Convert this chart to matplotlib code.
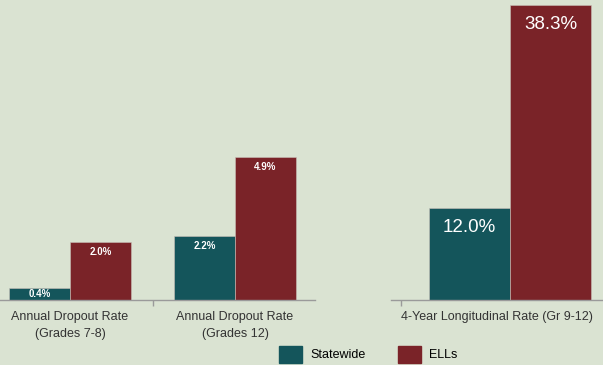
import matplotlib.pyplot as plt
from matplotlib.patches import Patch

BG = '#dae3d2'
TEAL = '#14555b'
MAROON = '#7a2328'
AXIS = '#9a9a9a'

plt.rcParams['font.family'] = ['Liberation Sans', 'DejaVu Sans']

# annual dropout rates (left panel)
annual_labels = ["Annual Dropout Rate\n(Grades 7-8)", "Annual Dropout Rate\n(Grades 12)"]
annual_statewide = [0.4, 2.2]
annual_ells = [2.0, 4.9]

# longitudinal rate (right panel)
long_labels = ["4-Year Longitudinal Rate (Gr 9-12)"]
long_statewide = [12.0]
long_ells = [38.3]

fig = plt.figure(figsize=(6.03, 3.65), dpi=100, facecolor=BG)

W, H = 603.0, 365.0
base = 65 / H
ax1 = fig.add_axes([0, base, 315 / W, 300 / H])
ax2 = fig.add_axes([391 / W, base, 229 / W, 300 / H])


def panel(ax, labels, sw, ell, bw, xlim, ylim, small):
    ax.set_facecolor(BG)
    xs = list(range(len(labels)))
    b1 = ax.bar([x - bw / 2 for x in xs], sw, bw, color=TEAL,
                edgecolor='#c8c0b8', linewidth=0.4)
    b2 = ax.bar([x + bw / 2 for x in xs], ell, bw, color=MAROON,
                edgecolor='#c8c0b8', linewidth=0.4)
    ax.set_xlim(*xlim)
    ax.set_ylim(*ylim)
    for s in ['top', 'left', 'right']:
        ax.spines[s].set_visible(False)
    ax.spines['bottom'].set_color(AXIS)
    ax.spines['bottom'].set_linewidth(1.0)
    ax.set_yticks([])
    ax.tick_params(axis='x', which='major', length=0, pad=8)
    ax.tick_params(axis='x', which='minor', length=4, color=AXIS, width=1)
    # bar height in points, so short bars keep their label inside
    pt_per_unit = ax.get_position().height * H * 0.72 / ylim[1]
    for bars, vals in [(b1, sw), (b2, ell)]:
        for r, v in zip(bars, vals):
            cx = r.get_x() + r.get_width() / 2
            if small:
                dy = min(7.5, v * pt_per_unit / 2)
                ax.annotate(f"{v:.1f}%", (cx, v), xytext=(0, -dy),
                            textcoords='offset points', ha='center', va='center',
                            color='white', fontsize=7, fontweight='bold')
            else:
                ax.annotate(f"{v:.1f}%", (cx, v), xytext=(0, -8),
                            textcoords='offset points', ha='center', va='top',
                            color='white', fontsize=13.5)


panel(ax1, annual_labels, annual_statewide, annual_ells, 0.37,
      (-70 / 165, 245 / 165), (0, 300 / 29.2), True)
ax1.set_xticks([0, 1])
ax1.set_xticklabels(annual_labels, fontsize=9, color='#333333', linespacing=1.5)
ax1.set_xticks([0.5], minor=True)

panel(ax2, long_labels, long_statewide, long_ells, 0.372,
      (-119 / 218, 110 / 218), (0, 300 / 7.7), False)
# the long label sits a little left of the bar pair
ax2.set_xticks([-0.06])
ax2.set_xticklabels(long_labels, fontsize=9, color='#333333')
ax2.set_xticks([-0.5], minor=True)

fig.legend(handles=[Patch(color=TEAL, label='Statewide'),
                    Patch(color=MAROON, label='ELLs')],
           loc='lower center', bbox_to_anchor=(368 / W, -0.025), ncol=2,
           frameon=False, fontsize=9, handlelength=1.9, handleheight=1.7,
           columnspacing=2.6, handletextpad=0.6)

fig.savefig('out.png', dpi=100, facecolor=BG)
